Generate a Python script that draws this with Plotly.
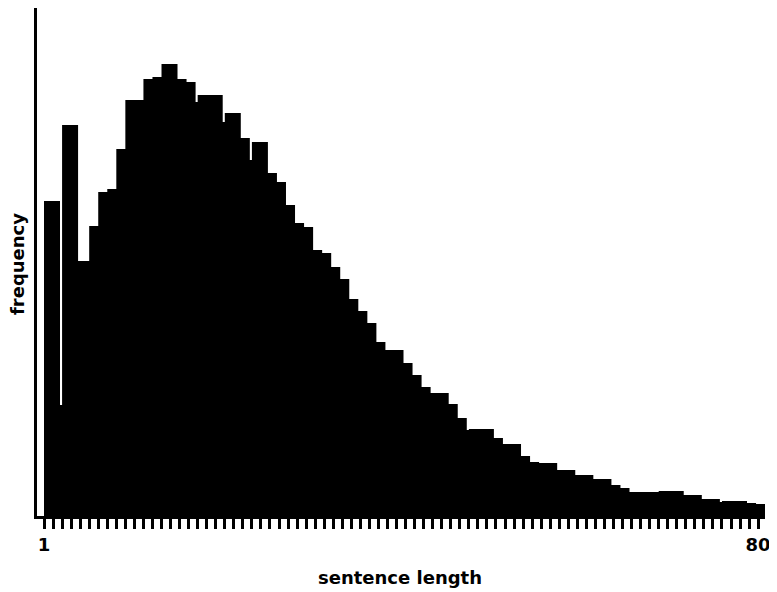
import plotly.graph_objects as go

# sentence length categories (1..80)
lengths = list(range(1, 81))

# frequency (arbitrary units)
frequency = [
    315, 111, 391, 255, 255, 290, 324, 327, 367, 416,
    416, 437, 439, 452, 437, 434, 414, 421, 421, 394,
    403, 378, 356, 374, 343, 334, 311, 293, 289, 266,
    263, 249, 237, 217, 205, 193, 174, 166, 166, 153,
    141, 129, 123, 123, 112, 98, 86, 87, 87, 78,
    72, 72, 60, 54, 53, 53, 46, 46, 41, 41,
    37, 37, 31, 28, 24, 24, 24, 24, 25, 25,
    21, 21, 17, 17, 14, 15, 15, 13, 12, 12,
]

tick_text = ["1"] + [""] * 78 + ["80"]

FONT = dict(family="DejaVu Sans", size=18, color="black", weight="bold")

fig = go.Figure()
fig.add_trace(go.Bar(
    x=lengths,
    y=frequency,
    width=1.77,
    offset=0,
    marker=dict(color="black", line=dict(width=0)),
    hoverinfo="x+y",
))

# page has an 8px body margin, so the figure is sized to fit the window
fig.update_layout(
    width=769,
    height=584,
    margin=dict(l=29, r=12, t=0, b=76),
    paper_bgcolor="white",
    plot_bgcolor="white",
    showlegend=False,
    font=FONT,
)

fig.update_xaxes(
    range=[0.226, 80.76],
    tickvals=lengths,
    ticktext=tick_text,
    ticks="outside",
    ticklen=10,
    tickwidth=2.5,
    tickcolor="black",
    showline=True,
    linecolor="black",
    linewidth=3,
    showgrid=False,
    zeroline=False,
    tickfont=FONT,
)

fig.update_yaxes(
    range=[0, 508],
    showticklabels=False,
    ticks="",
    showline=True,
    linecolor="black",
    linewidth=3,
    showgrid=False,
    zeroline=False,
)

fig.add_annotation(
    text="sentence length", xref="paper", yref="paper",
    x=0.4986, y=0, yshift=-61, xanchor="center", yanchor="middle",
    showarrow=False, font=FONT,
)
fig.add_annotation(
    text="frequency", xref="paper", yref="paper",
    x=0, xshift=-20, y=0.496, xanchor="center", yanchor="middle",
    textangle=-90, showarrow=False, font=FONT,
)

fig.write_html("out.html")
